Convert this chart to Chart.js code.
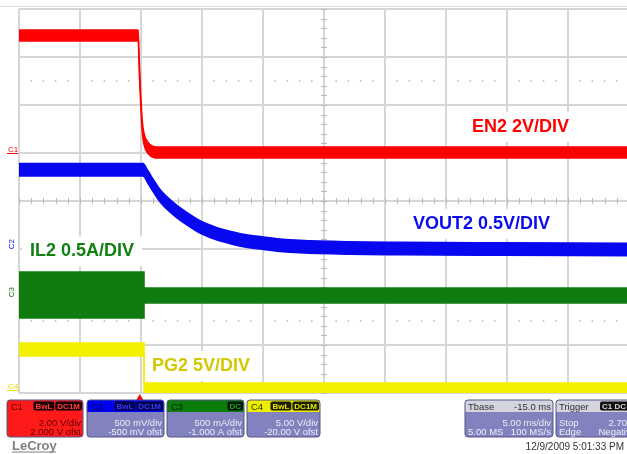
<!DOCTYPE html>
<html><head><meta charset="utf-8">
<script src="https://cdn.jsdelivr.net/npm/chart.js@4/dist/chart.umd.min.js"></script>
<style>html,body{margin:0;padding:0;background:#fff;overflow:hidden}canvas{display:block}</style>
</head><body>
<canvas id="c" width="627" height="454"></canvas>
<script>
// Horizontal axis: time in ms (5 ms/div, trigger near 0). Vertical axis: screen divisions (0 = bottom, 8 = top).
const timeTicks = [-10, -5, 0, 5, 10, 15, 20, 25, 30, 35];
const divTicks = [0, 1, 2, 3, 4, 5, 6, 7, 8];
const triggerTime = -0.1;

const en2Time  = [-10, -0.23, -0.14, -0.02, 0.11, 0.27, 0.60, 1.29, 39.84];
const en2Level = [7.45, 7.45, 6.79, 6.10, 5.54, 5.27, 5.10, 5.01, 5.01];
const en2Band  = 0.115;

const vout2Time  = [-10, 0.16, 0.57, 0.98, 1.39, 1.80, 2.79, 3.77, 4.84, 6.07, 7.30, 8.52, 9.75, 11.39, 13.03, 17.13, 21.23, 29.43, 39.84];
const vout2Level = [4.65, 4.65, 4.50, 4.33, 4.17, 4.04, 3.81, 3.63, 3.46, 3.33, 3.24, 3.17, 3.13, 3.08, 3.05, 3.02, 3.01, 3.00, 2.99];
const vout2Band  = 0.13;

const il2Time  = [-10, 0.25, 0.25, 39.84];
const il2Level = [2.04, 2.04, 2.03, 2.03];
const il2Band  = [0.48, 0.48, 0.156, 0.156];

const pg2Time  = [-10, 0.25, 0.25, 39.84];
const pg2Level = [0.906, 0.906, 0.104, 0.104];
const pg2Band  = [0.135, 0.135, 0.104, 0.104];

const traceLabels = ['EN2 2V/DIV', 'VOUT2 0.5V/DIV', 'IL2 0.5A/DIV', 'PG2 5V/DIV'];
const labelTime   = [27.13, 22.30, -9.10, 0.90];
const labelLevel  = [5.44, 3.42, 2.85, 0.46];
const labelColors = ['#ff0000', '#0a0aee', '#128012', '#d2c800'];

const channelNames  = ['C1', 'C2', 'C3', 'C4'];
const channelLevels = [5.0, 3.1, 2.1, 0.06];
const traceColors   = ['#ff0000', '#0808f0', '#107c10', '#f4f000'];

function envelope(times, levels, half, sign) {
  return times.map((t, i) => ({ x: t, y: levels[i] + sign * (Array.isArray(half) ? half[i] : half) }));
}
function traceSets(times, levels, half, color, smooth) {
  const base = { borderColor: color, backgroundColor: color, borderWidth: 1.5, pointRadius: 0,
    tension: 0, cubicInterpolationMode: smooth ? 'monotone' : 'default' };
  return [
    Object.assign({}, base, { data: envelope(times, levels, half, 1), fill: false }),
    Object.assign({}, base, { data: envelope(times, levels, half, -1), fill: '-1' })
  ];
}

const datasets = [].concat(
  traceSets(en2Time, en2Level, en2Band, traceColors[0], true),
  traceSets(vout2Time, vout2Level, vout2Band, traceColors[1], true),
  traceSets(il2Time, il2Level, il2Band, traceColors[2], false),
  traceSets(pg2Time, pg2Level, pg2Band, traceColors[3], false)
);

const FONT = '"Liberation Sans", Arial, sans-serif';

const graticule = {
  id: 'graticule',
  beforeDatasetsDraw(chart) {
    const { ctx, chartArea: a, scales: { x, y } } = chart;
    ctx.save();
    ctx.fillStyle = '#dcdcdc';
    ctx.fillRect(0, a.top - 3, chart.width, 1);
    ctx.fillStyle = '#b8b8b8';
    [1.5, 6.5].forEach(lv => {
      const py = y.getPixelForValue(lv);
      for (let t = -10; t <= 40; t += 1) {
        if (t % 5 === 0) continue;
        const px = x.getPixelForValue(t);
        if (px > a.right) break;
        ctx.fillRect(px - 0.75, py - 0.75, 1.5, 1.5);
      }
    });
    ctx.strokeStyle = '#b8b8b8';
    ctx.lineWidth = 1;
    const cx = x.getPixelForValue(15), cy = y.getPixelForValue(4);
    ctx.beginPath();
    for (let d = 0; d <= 8.001; d += 0.2) {
      const py = Math.round(y.getPixelForValue(d)) + 0.5;
      ctx.moveTo(cx - 3, py); ctx.lineTo(cx + 3, py);
    }
    for (let t = -10; t <= 40; t += 1) {
      const px = Math.round(x.getPixelForValue(t)) + 0.5;
      if (px > a.right) break;
      ctx.moveTo(px, cy - 3); ctx.lineTo(px, cy + 3);
    }
    ctx.stroke();
    ctx.font = 'bold 18px ' + FONT;
    ctx.textBaseline = 'alphabetic';
    traceLabels.forEach((txt, i) => {
      const px = x.getPixelForValue(labelTime[i]);
      const py = y.getPixelForValue(labelLevel[i]);
      const w = ctx.measureText(txt).width;
      ctx.fillStyle = '#ffffff';
      ctx.fillRect(px - 8, py - 20, w + 16, 30);
      ctx.fillStyle = labelColors[i];
      ctx.fillText(txt, px, py);
    });
    ctx.restore();
  }
};

function rrect(ctx, x, y, w, h, r) {
  ctx.beginPath();
  ctx.moveTo(x + r, y);
  ctx.lineTo(x + w - r, y); ctx.quadraticCurveTo(x + w, y, x + w, y + r);
  ctx.lineTo(x + w, y + h - r); ctx.quadraticCurveTo(x + w, y + h, x + w - r, y + h);
  ctx.lineTo(x + r, y + h); ctx.quadraticCurveTo(x, y + h, x, y + h - r);
  ctx.lineTo(x, y + r); ctx.quadraticCurveTo(x, y, x + r, y);
  ctx.closePath();
}

const chanBoxes = [
  { x: 7,   w: 76, head: '#ff1a1a', body: '#ff1a1a', headText: '#5a0000', bodyText: '#5a0000', badges: ['BwL', 'DC1M'], badgeBg: '#1c0000', badgeText: '#ff4040', lines: ['2.00 V/div', '2.000 V ofst'] },
  { x: 87,  w: 77, head: '#0000f0', body: '#8282be', headText: '#00004a', bodyText: '#eeeef6', badges: ['BwL', 'DC1M'], badgeBg: '#000048', badgeText: '#3a3aff', lines: ['500 mV/div', '-500 mV ofst'] },
  { x: 167, w: 77, head: '#0b7d0b', body: '#8282be', headText: '#002000', bodyText: '#eeeef6', badges: ['DC'], badgeBg: '#001800', badgeText: '#22a022', lines: ['500 mA/div', '-1.000 A ofst'] },
  { x: 247, w: 73, head: '#eeee00', body: '#8282be', headText: '#303000', bodyText: '#eeeef6', badges: ['BwL', 'DC1M'], badgeBg: '#1e1e00', badgeText: '#e8e800', lines: ['5.00 V/div', '-20.00 V ofst'] }
];

const panel = {
  id: 'panel',
  afterDraw(chart) {
    const { ctx, chartArea: a, scales: { x, y } } = chart;
    ctx.save();
    ctx.font = '8px ' + FONT;
    channelNames.forEach((n, i) => {
      const py = y.getPixelForValue(channelLevels[i]);
      ctx.fillStyle = i === 3 ? '#e8e000' : traceColors[i];
      ctx.strokeStyle = ctx.fillStyle;
      if (i === 1 || i === 2) {
        ctx.save();
        ctx.translate(14, py);
        ctx.rotate(-Math.PI / 2);
        ctx.textAlign = 'center';
        ctx.fillText(n, 0, 0);
        ctx.restore();
      } else {
        ctx.textAlign = 'left';
        ctx.fillText(n, 8, py - 1);
        ctx.lineWidth = 1;
        ctx.beginPath(); ctx.moveTo(7, py + 0.5); ctx.lineTo(18, py + 0.5); ctx.stroke();
      }
    });
    const tx = x.getPixelForValue(triggerTime);
    ctx.fillStyle = '#ff0000';
    ctx.beginPath();
    ctx.moveTo(tx, a.bottom + 1); ctx.lineTo(tx + 3.5, a.bottom + 7); ctx.lineTo(tx - 3.5, a.bottom + 7);
    ctx.closePath(); ctx.fill();

    const top = 400, hh = 12, bh = 37;
    const r1 = top + 25.5, r2 = top + 35;
    const bodyFont = '9.5px ' + FONT;
    chanBoxes.forEach((b, i) => {
      rrect(ctx, b.x, top, b.w, bh, 3);
      ctx.fillStyle = b.body; ctx.fill();
      ctx.save(); ctx.clip();
      ctx.fillStyle = b.head; ctx.fillRect(b.x, top, b.w, hh);
      ctx.restore();
      rrect(ctx, b.x, top, b.w, bh, 3);
      ctx.strokeStyle = '#55558a'; ctx.lineWidth = 1; ctx.stroke();
      ctx.font = bodyFont;
      ctx.textAlign = 'left'; ctx.fillStyle = b.headText;
      ctx.fillText(channelNames[i], b.x + 4, top + 10);
      ctx.font = 'bold 8px ' + FONT;
      let rx = b.x + b.w - 1;
      for (let k = b.badges.length - 1; k >= 0; k--) {
        const tw = ctx.measureText(b.badges[k]).width + 4;
        rrect(ctx, rx - tw, top + 1.5, tw, 9, 2);
        ctx.fillStyle = b.badgeBg; ctx.fill();
        ctx.fillStyle = b.badgeText; ctx.textAlign = 'left';
        ctx.fillText(b.badges[k], rx - tw + 2, top + 9);
        rx -= tw + 1;
      }
      ctx.font = bodyFont;
      ctx.textAlign = 'right'; ctx.fillStyle = b.bodyText;
      ctx.fillText(b.lines[0], b.x + b.w - 2, r1);
      ctx.fillText(b.lines[1], b.x + b.w - 2, r2);
    });

    const tbx = 465, tbw = 88;
    rrect(ctx, tbx, top, tbw, bh, 3); ctx.fillStyle = '#8282be'; ctx.fill();
    ctx.save(); rrect(ctx, tbx, top, tbw, bh, 3); ctx.clip();
    ctx.fillStyle = '#d4d4dc'; ctx.fillRect(tbx, top, tbw, hh); ctx.restore();
    rrect(ctx, tbx, top, tbw, bh, 3); ctx.strokeStyle = '#55558a'; ctx.stroke();
    ctx.font = bodyFont;
    ctx.fillStyle = '#303040'; ctx.textAlign = 'left'; ctx.fillText('Tbase', tbx + 3, top + 10);
    ctx.textAlign = 'right'; ctx.fillText('-15.0 ms', tbx + tbw - 2, top + 10);
    ctx.fillStyle = '#eeeef6';
    ctx.fillText('5.00 ms/div', tbx + tbw - 2, r1);
    ctx.fillText('100 MS/s', tbx + tbw - 2, r2);
    ctx.textAlign = 'left'; ctx.fillText('5.00 MS', tbx + 3, r2);

    const trx = 556, trw = 84;
    rrect(ctx, trx, top, trw, bh, 3); ctx.fillStyle = '#8282be'; ctx.fill();
    ctx.save(); rrect(ctx, trx, top, trw, bh, 3); ctx.clip();
    ctx.fillStyle = '#d4d4dc'; ctx.fillRect(trx, top, trw, hh); ctx.restore();
    rrect(ctx, trx, top, trw, bh, 3); ctx.strokeStyle = '#55558a'; ctx.stroke();
    ctx.fillStyle = '#303040'; ctx.textAlign = 'left'; ctx.fillText('Trigger', trx + 3, top + 10);
    ctx.font = 'bold 8px ' + FONT;
    rrect(ctx, 600, top + 1.5, 30, 9, 2); ctx.fillStyle = '#101010'; ctx.fill();
    ctx.fillStyle = '#d8d8d8'; ctx.fillText('C1 DC', 602, top + 9);
    ctx.font = bodyFont;
    ctx.fillStyle = '#eeeef6';
    ctx.fillText('Stop', trx + 3, r1);
    ctx.fillText('Edge', trx + 3, r2);
    ctx.textAlign = 'right';
    ctx.fillText('2.70 V', trx + trw - 4, r1);
    ctx.fillText('Negative', trx + trw - 4, r2);

    ctx.fillStyle = '#333333'; ctx.font = '10px ' + FONT; ctx.textAlign = 'right';
    ctx.fillText('12/9/2009 5:01:33 PM', 624, 450);

    ctx.fillStyle = '#808080'; ctx.font = 'bold 13px ' + FONT; ctx.textAlign = 'left';
    ctx.fillText('LeCroy', 12, 450);
    ctx.fillRect(12, 451.5, 44, 1);
    ctx.restore();
  }
};

new Chart(document.getElementById('c'), {
  type: 'line',
  data: { datasets },
  options: {
    responsive: false,
    animation: false,
    devicePixelRatio: 1,
    layout: { padding: { left: 19, right: 0, top: 9, bottom: 61 } },
    plugins: { legend: { display: false }, tooltip: { enabled: false }, title: { display: false } },
    scales: {
      x: {
        type: 'linear', min: -10, max: 39.84,
        afterBuildTicks: s => { s.ticks = timeTicks.map(v => ({ value: v })); },
        ticks: { display: false },
        grid: { color: '#d6d6d6', lineWidth: 2, drawTicks: false },
        border: { display: false }
      },
      y: {
        type: 'linear', min: 0, max: 8,
        afterBuildTicks: s => { s.ticks = divTicks.map(v => ({ value: v })); },
        ticks: { display: false },
        grid: { color: '#d6d6d6', lineWidth: 2, drawTicks: false },
        border: { display: false }
      }
    }
  },
  plugins: [graticule, panel]
});
</script>
</body></html>
